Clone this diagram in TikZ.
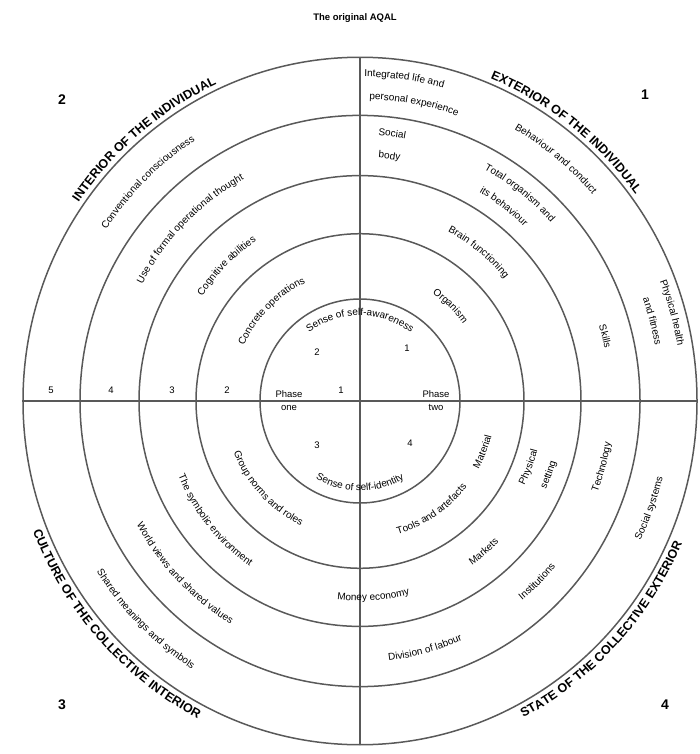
\documentclass[tikz,border=0pt]{standalone}
\usepackage{fontspec}
\setmainfont{Liberation Sans}
\usetikzlibrary{decorations.text}
\tikzset{
  ring/.style={draw=black!65, line width=1.5pt},
  axisline/.style={draw=black!65, line width=1.6pt},
  lbl/.style={font=\fontsize{9.5}{10}\selectfont, inner sep=0pt, text=black},
  qnum/.style={font=\fontsize{14}{14}\selectfont\bfseries, inner sep=0pt},
}
% #1 radius, #2 start angle, #3 end angle, #4 font size, #5 text
\newcommand\arctxt[5]{%
  \path[decorate,decoration={text along path,text align=center,
    text={|\fontsize{#4}{#4}\selectfont|#5}}]
    (#2:#1) arc[start angle=#2,end angle=#3,radius=#1];}
\newcommand\captxt[4]{%
  \path[decorate,decoration={text along path,text align=center,
    text={|\fontsize{12.5}{12.5}\selectfont\bfseries|#4}}]
    (#2:#1) arc[start angle=#2,end angle=#3,radius=#1];}
\begin{document}
\begin{tikzpicture}[x=1pt,y=1pt]
\useasboundingbox (0,0) rectangle (699,-754);
\node[lbl, font=\fontsize{9.5}{9.5}\selectfont\bfseries] (title) at (355,-18) {The original AQAL};
\node[qnum] (q2) at (62,-100) {2};
\node[qnum] (q1) at (645,-95) {1};
\node[qnum] (q3) at (62,-705) {3};
\node[qnum] (q4) at (665,-705) {4};
\begin{scope}[shift={(360,-401)}, yscale=1.02]
  \coordinate (C) at (0,0);
  \foreach \r in {100,164,221,280,337} \draw[ring] (C) circle[radius=\r];
  \coordinate (axL) at (-338,0); \coordinate (axR) at (338,0);
  \coordinate (axT) at (0,337); \coordinate (axB) at (0,-337);
  \draw[axisline] (axL) -- (axR);
  \draw[axisline] (axT) -- (axB);
  % caps titles (outside the outer ring)
  \captxt{342}{158}{102}{INTERIOR OF THE INDIVIDUAL}
  \captxt{342}{78}{26}{EXTERIOR OF THE INDIVIDUAL}
  \captxt{351}{186}{258}{CULTURE OF THE COLLECTIVE INTERIOR}
  \captxt{351}{280}{354}{STATE OF THE COLLECTIVE EXTERIOR}
  % Q1
  \arctxt{318}{90}{74}{10}{Integrated life and}
  \arctxt{296}{89}{70}{10}{personal experience}
  \arctxt{308}{68}{33}{10}{Behaviour and conduct}
  \arctxt{322}{30}{1}{10}{Physical health}
  \arctxt{300}{28}{2}{10}{and fitness}
  \arctxt{261}{89}{77}{10}{Social}
  \arctxt{239}{89}{77}{10}{body}
  \arctxt{259}{72}{32}{10}{Total organism and}
  \arctxt{237}{68}{38}{10}{its behaviour}
  \arctxt{250}{27}{2}{10}{Skills}
  \arctxt{188}{76}{26}{10}{Brain functioning}
  \arctxt{128}{70}{22}{10}{Organism}
  % Q2
  \arctxt{304}{172}{97}{10}{Conventional consciousness}
  \arctxt{246}{174}{96}{10}{Use of formal operational thought}
  \arctxt{188}{170}{100}{10}{Cognitive abilities}
  \arctxt{128}{172}{98}{10}{Concrete operations}
  % inner
  \arctxt{84}{140}{40}{10}{Sense of self-awareness}
  \arctxt{88}{225}{315}{10}{Sense of self-identity}
  % Q3
  \arctxt{312}{196}{254}{10}{Shared meanings and symbols}
  \arctxt{254}{190}{258}{10}{World views and shared values}
  \arctxt{196}{184}{254}{10}{The symbolic environment}
  \arctxt{136}{192}{254}{10}{Group norms and roles}
  % Q4
  \arctxt{196}{256}{292}{10}{Money economy}
  \arctxt{256}{272}{298}{10}{Division of labour}
  \arctxt{312}{324}{356}{10}{Social systems}
  \arctxt{254}{334}{356}{10}{Technology}
  \arctxt{184}{326}{352}{10}{Physical}
  \arctxt{205}{326}{352}{10}{setting}
  \arctxt{136}{286}{322}{10}{Tools and artefacts}
  \arctxt{136}{324}{352}{10}{Material}
  \arctxt{254}{300}{330}{10}{Institutions}
  \arctxt{196}{298}{322}{10}{Markets}
\end{scope}
% axis numbers
\node[lbl] (n5) at (51,-390) {5};
\node[lbl] (n4) at (111,-390) {4};
\node[lbl] (n3) at (172,-390) {3};
\node[lbl] (n2) at (227,-390) {2};
\node[lbl] (n1) at (341,-390) {1};
\node[lbl, align=center] (phl) at (289,-401) {Phase\\[3pt]one};
\node[lbl, align=center] (phr) at (436,-401) {Phase\\[3pt]two};
\node[lbl] (i2) at (317,-352) {2};
\node[lbl] (i1) at (407,-348) {1};
\node[lbl] (i3) at (317,-445) {3};
\node[lbl] (i4) at (410,-443) {4};
\end{tikzpicture}
\end{document}
